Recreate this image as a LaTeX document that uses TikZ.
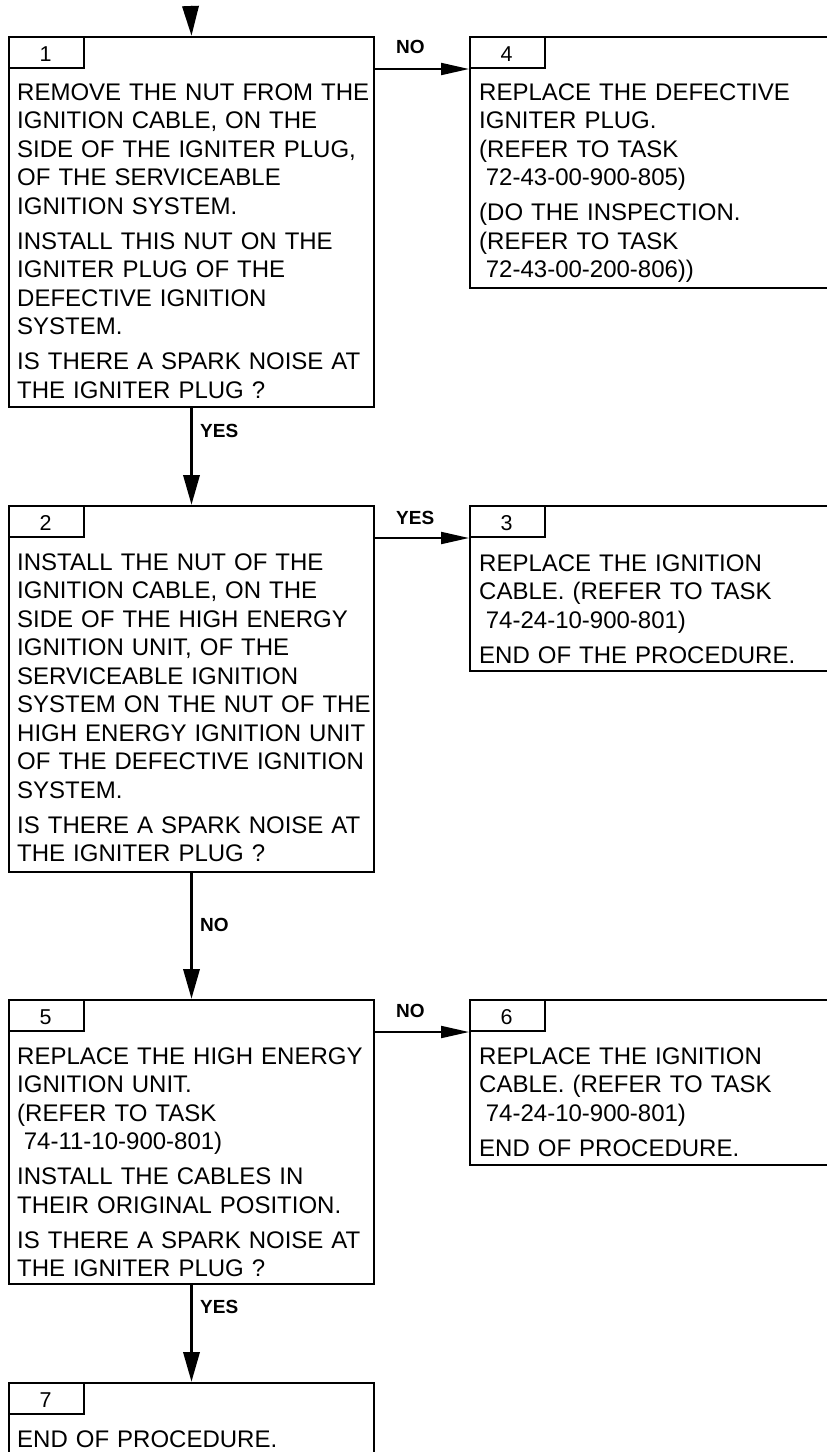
\documentclass[tikz,border=0pt]{standalone}
\usepackage{fontspec}
\setmainfont{Liberation Sans}
\usetikzlibrary{arrows.meta}
\begin{document}
\begin{tikzpicture}[x=1pt,y=-1pt,
  box/.style={draw, line width=2pt, inner sep=0pt, anchor=north west},
  tab/.style={draw, line width=2pt, inner sep=0pt, anchor=north west, minimum width=75pt, minimum height=31pt},
  num/.style={font=\fontsize{21.5}{24}\selectfont, anchor=base, inner sep=0pt},
  txt/.style={font=\fontsize{24}{28.5}\selectfont, anchor=base west, inner sep=0pt, text width=360pt, align=left},
  lbl/.style={font=\bfseries\fontsize{19}{21}\selectfont, anchor=base west, inner sep=0pt},
  varrow/.style={line width=3.5pt, -{Triangle[length=30pt,width=16pt]}},
  harrow/.style={line width=2pt, -{Triangle[length=28pt,width=12pt]}}]
\useasboundingbox (0,0) rectangle (827,1452);
\fill[white] (0,0) rectangle (827,1452);

% boxes
\node[box, minimum width=365pt, minimum height=370pt] (b1) at (8,36) {};
\node[box, minimum width=440pt, minimum height=251pt] (b4) at (469,36) {};
\node[box, minimum width=365pt, minimum height=366pt] (b2) at (8,505) {};
\node[box, minimum width=440pt, minimum height=165pt] (b3) at (469,505) {};
\node[box, minimum width=365pt, minimum height=284pt] (b5) at (8,999) {};
\node[box, minimum width=440pt, minimum height=165pt] (b6) at (469,999) {};
\node[box, minimum width=365pt, minimum height=140pt] (b7) at (8,1382) {};

% tabs
\node[tab] (t1) at (8,36) {};
\node[tab] (t4) at (469,36) {};
\node[tab] (t2) at (8,505) {};
\node[tab] (t3) at (469,505) {};
\node[tab] (t5) at (8,999) {};
\node[tab] (t6) at (469,999) {};
\node[tab] (t7) at (8,1382) {};

\node[num] (n1) at (45.5,61) {1};
\node[num] (n4) at (506.5,61) {4};
\node[num] (n2) at (45.5,530) {2};
\node[num] (n3) at (506.5,530) {3};
\node[num] (n5) at (45.5,1024) {5};
\node[num] (n6) at (506.5,1024) {6};
\node[num] (n7) at (45.5,1407) {7};

% texts
\node[txt] (x1) at (17,100) {REMOVE THE NUT FROM THE\\IGNITION CABLE, ON THE\\SIDE OF THE IGNITER PLUG,\\OF THE SERVICEABLE\\IGNITION SYSTEM.\\[6.5pt]INSTALL THIS NUT ON THE\\IGNITER PLUG OF THE\\DEFECTIVE IGNITION\\SYSTEM.\\[6.5pt]IS THERE A SPARK NOISE AT\\THE IGNITER PLUG ?};
\node[txt] (x4) at (479,100) {REPLACE THE DEFECTIVE\\IGNITER PLUG.\\(REFER TO TASK\\\hspace*{6.7pt}72-43-00-900-805)\\[6.5pt](DO THE INSPECTION.\\(REFER TO TASK\\\hspace*{6.7pt}72-43-00-200-806))};
\node[txt] (x2) at (17,570) {INSTALL THE NUT OF THE\\IGNITION CABLE, ON THE\\SIDE OF THE HIGH ENERGY\\IGNITION UNIT, OF THE\\SERVICEABLE IGNITION\\SYSTEM ON THE NUT OF THE\\HIGH ENERGY IGNITION UNIT\\OF THE DEFECTIVE IGNITION\\SYSTEM.\\[6.5pt]IS THERE A SPARK NOISE AT\\THE IGNITER PLUG ?};
\node[txt] (x3) at (479,571) {REPLACE THE IGNITION\\CABLE. (REFER TO TASK\\\hspace*{6.7pt}74-24-10-900-801)\\[6.5pt]END OF THE PROCEDURE.};
\node[txt] (x5) at (17,1064) {REPLACE THE HIGH ENERGY\\IGNITION UNIT.\\(REFER TO TASK\\\hspace*{6.7pt}74-11-10-900-801)\\[6.5pt]INSTALL THE CABLES IN\\THEIR ORIGINAL POSITION.\\[6.5pt]IS THERE A SPARK NOISE AT\\THE IGNITER PLUG ?};
\node[txt] (x6) at (479,1064) {REPLACE THE IGNITION\\CABLE. (REFER TO TASK\\\hspace*{6.7pt}74-24-10-900-801)\\[6.5pt]END OF PROCEDURE.};
\node[txt] (x7) at (17,1447) {END OF PROCEDURE.};

% connectors
\coordinate (top) at (190.5,6);
\draw[varrow] (top) -- (b1.north);
\draw[varrow] (b1.south) -- (b2.north);
\draw[varrow] (b2.south) -- (b5.north);
\draw[varrow] (b5.south) -- (b7.north);
\draw[harrow] (t1.south -| b1.east) -- (t4.south -| b4.west);
\draw[harrow] (t2.south -| b2.east) -- (t3.south -| b3.west);
\draw[harrow] (t5.south -| b5.east) -- (t6.south -| b6.west);

% labels
\node[lbl] (l14) at (396,53) {NO};
\node[lbl] (l12) at (200,437) {YES};
\node[lbl] (l23) at (396,524) {YES};
\node[lbl] (l25) at (200,931) {NO};
\node[lbl] (l56) at (396,1017) {NO};
\node[lbl] (l57) at (200,1313) {YES};
\end{tikzpicture}
\end{document}
